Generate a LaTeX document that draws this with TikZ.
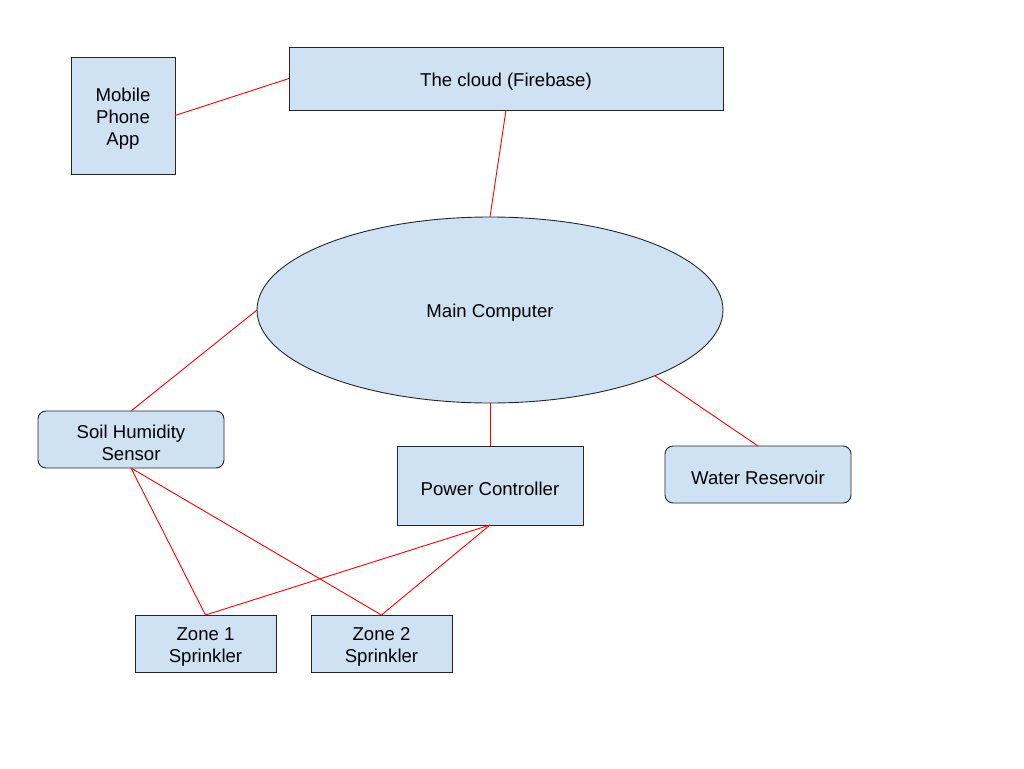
\documentclass[tikz,border=0pt]{standalone}
\usepackage{fontspec}
\setmainfont{Liberation Sans}
\usepackage{tikz}
\usetikzlibrary{positioning}
\usetikzlibrary{shapes.geometric}

\definecolor{boxblue}{HTML}{CFE2F3}
\newcommand{\liftline}{\rule{0pt}{19.5pt}}

\tikzset{
	part/.style={draw=black!85, fill=boxblue, line width=0.9pt, inner sep=0pt, outer sep=0pt, align=center, font=\fontsize{18.6}{22}\selectfont, execute at begin node={\liftline}},
	roundpart/.style={part, rounded corners=8pt},
	link/.style={draw=red, line width=0.9pt}
}

\begin{document}
\begin{tikzpicture}[x=1pt,y=-1pt]
	\useasboundingbox (0,0) rectangle (1024,768);
	% Top Row %
	\node [part, minimum width=104pt, minimum height=117pt] (phone) at (123,115.5) {\liftline Mobile\\Phone\\App};
	\node [part, minimum width=434pt, minimum height=63pt] (cloud) at (506,78.5) {The cloud (Firebase)};
	% Main Computer %
	\node [part, ellipse, minimum width=466pt, minimum height=186pt] (main) at (490,310) {Main Computer};
	% Middle Row %
	\node [roundpart, minimum width=186pt, minimum height=57pt] (soil) at (131,439.5) {\liftline Soil Humidity\\Sensor};
	\node [part, minimum width=186pt, minimum height=79pt] (power) at (490,485.5) {Power Controller};
	\node [roundpart, minimum width=186pt, minimum height=57pt] (water) at (758,474.5) {Water Reservoir};
	% Sprinklers %
	\node [part, minimum width=141pt, minimum height=57pt] (zoneA) at (205.5,643.5) {\liftline Zone 1\\Sprinkler};
	\node [part, minimum width=141pt, minimum height=57pt] (zoneB) at (381.5,643.5) {\liftline Zone 2\\Sprinkler};
	% Lines %
	\draw [link] (phone.east) -- (cloud.west);
	\draw [link] (cloud.south) -- (main.north);
	\draw [link] (main.west) -- (soil.north);
	\draw [link] (main.south) -- (power.north);
	\draw [link] (main.south east) -- (water.north);
	\draw [link] (soil.south) -- (zoneA.north);
	\draw [link] (soil.south) -- (zoneB.north);
	\draw [link] (power.south) -- (zoneA.north);
	\draw [link] (power.south) -- (zoneB.north);
\end{tikzpicture}
\end{document}
